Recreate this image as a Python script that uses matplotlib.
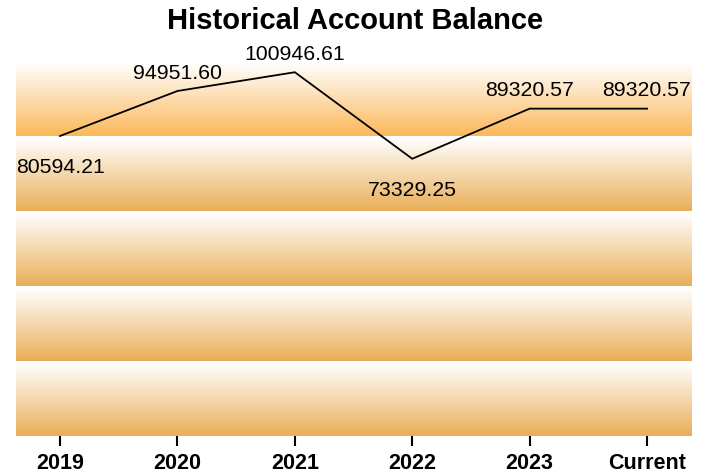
import numpy as np
import matplotlib
matplotlib.use("Agg")
import matplotlib.pyplot as plt
from matplotlib.colors import LinearSegmentedColormap

plt.rcParams["font.family"] = ["Liberation Sans", "DejaVu Sans"]

# ---------------------------------------------------------
# DATA
# ---------------------------------------------------------
periods = ["2019", "2020", "2021", "2022", "2023", "Current"]
balances = [80594.21, 94951.60, 100946.61, 73329.25, 89320.57, 89320.57]
label_side = ["below", "above", "above", "below", "above", "above"]

Y_MIN, Y_MAX = -15130, 104525
N_BANDS = 5

fig = plt.figure(figsize=(7.11, 4.75), dpi=100)
ax = fig.add_axes([16 / 711, (475 - 436) / 475, 676 / 711, 375 / 475])

x = np.arange(len(periods))
x_lo, x_hi = -0.375, 5.383

# ---------------------------------------------------------
# Gradient bands (white at top, orange at bottom)
# ---------------------------------------------------------
band_h = (Y_MAX - Y_MIN) / N_BANDS
gap = band_h * 2.5 / 75
grad = np.linspace(0, 1, 256).reshape(-1, 1)
for i in range(N_BANDS):
    lo = Y_MIN + i * band_h
    hi = lo + band_h - gap
    end_col = "#fbb859" if i == N_BANDS - 1 else "#e9ae57"
    cmap = LinearSegmentedColormap.from_list(f"band{i}", ["#ffffff", end_col])
    ax.imshow(grad, cmap=cmap, aspect="auto", origin="upper",
              extent=[x_lo, x_hi, lo, hi], zorder=0, interpolation="bilinear")

# ---------------------------------------------------------
# Line + value labels
# ---------------------------------------------------------
ax.plot(x, balances, color="black", linewidth=1.3, zorder=3)
for xi, val, side in zip(x, balances, label_side):
    dy = 6 if side == "above" else -16
    ax.annotate(f"{val:.2f}", (xi, val), xytext=(0, dy), textcoords="offset points",
                ha="center", va="bottom" if side == "above" else "top",
                fontsize=15.3, color="black", zorder=4, annotation_clip=False)

ax.set_xlim(x_lo, x_hi)
ax.set_ylim(Y_MIN, Y_MAX)
ax.set_xticks(x)
ax.set_xticklabels(periods, fontweight="bold", fontsize=15.5)
ax.set_yticks([])
ax.tick_params(axis="x", length=7, width=1.5, color="black", pad=5)
for sp in ax.spines.values():
    sp.set_visible(False)

fig.suptitle("Historical Account Balance", fontsize=21, fontweight="bold", y=0.985)

plt.savefig("out.png", dpi=100)
plt.close(fig)
